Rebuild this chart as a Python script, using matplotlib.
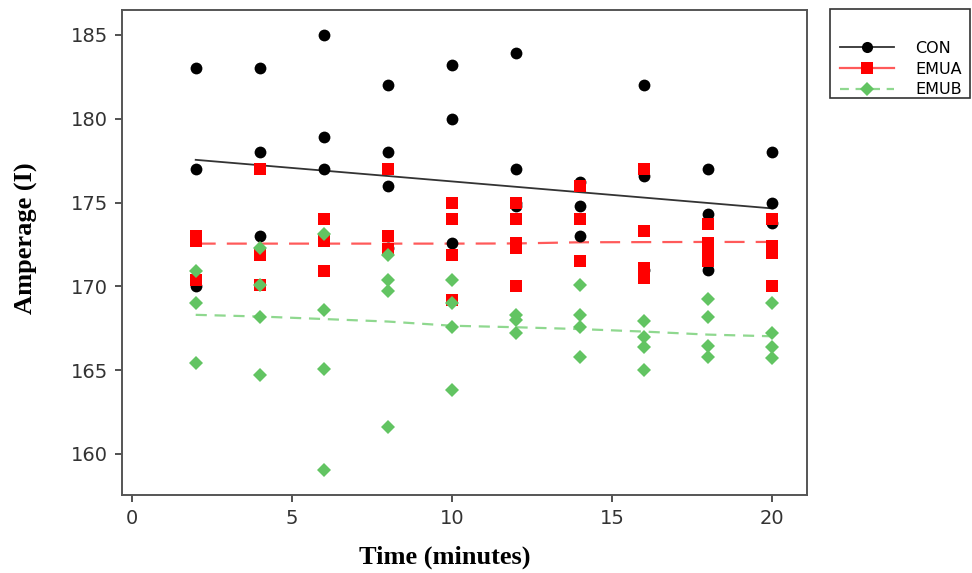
import matplotlib
matplotlib.use("Agg")
import matplotlib.pyplot as plt
from matplotlib.lines import Line2D
from matplotlib.patches import Rectangle

# ---------------- data ----------------
con_time = [2, 2, 2, 4, 4, 4, 6, 6, 6, 8, 8, 8, 8, 10, 10, 10,
            12, 12, 12, 12, 14, 14, 14, 16, 16, 16, 18, 18, 18, 20, 20, 20]
con_amp = [183, 177, 170, 183, 178, 173, 185, 178.9, 177, 182, 178, 176, 172.3,
           183.2, 180, 172.6, 183.9, 177, 175.0, 174.8, 176.2, 174.8, 173,
           182, 176.6, 171, 177, 174.3, 171, 178, 175, 173.8]

emua_time = [2, 2, 2, 4, 4, 4, 6, 6, 6, 8, 8, 8, 10, 10, 10, 10,
             12, 12, 12, 12, 12, 14, 14, 14, 16, 16, 16, 16,
             18, 18, 18, 18, 20, 20, 20, 20]
emua_amp = [173.0, 172.7, 170.4, 177, 171.9, 170.1, 174, 172.7, 170.9,
            177, 173, 172.2, 175, 174, 171.9, 169.2,
            175, 174, 172.6, 172.3, 170, 176, 174, 171.5,
            177, 173.3, 171.1, 170.5, 173.7, 172.6, 171.9, 171.5,
            174, 172.4, 172.0, 170]

emub_time = [2, 2, 2, 4, 4, 4, 4, 6, 6, 6, 6, 8, 8, 8, 8, 10, 10, 10, 10,
             12, 12, 12, 14, 14, 14, 14, 16, 16, 16, 16, 18, 18, 18, 18,
             20, 20, 20, 20]
emub_amp = [170.9, 169.0, 165.4, 172.3, 170.1, 168.2, 164.7,
            173.1, 168.6, 165.05, 159.05, 171.9, 170.4, 169.75, 161.6,
            170.4, 169.0, 167.55, 163.8, 168.3, 168.0, 167.2,
            170.1, 168.3, 167.55, 165.8, 167.95, 166.95, 166.4, 165.0,
            169.25, 168.2, 166.45, 165.8, 169.0, 167.2, 166.4, 165.75]

con_fit_time = [2, 20]
con_fit = [177.55, 174.65]
fit_time = [2, 4, 6, 8, 10, 12, 14, 16, 18, 20]
emua_fit = [172.55, 172.55, 172.55, 172.55, 172.55, 172.56, 172.63, 172.64, 172.65, 172.65]
emub_fit = [168.3, 168.2, 168.05, 167.9, 167.65, 167.56, 167.45, 167.3, 167.12, 167.02]

x_ticks = [0, 5, 10, 15, 20]
y_ticks = [160, 165, 170, 175, 180, 185]
labels = ["CON", "EMUA", "EMUB"]

# ---------------- styling ----------------
BLACK = "#000000"
RED = "#ff0000"
GREEN = "#62c462"
RED_LINE = "#ff5a5a"
GREEN_LINE = "#8fd88f"

W, H = 972, 573
fig = plt.figure(figsize=(W / 100, H / 100), dpi=100)
ax = fig.add_axes([122 / W, 1 - 495 / H, (806.7 - 122) / W, (495 - 9.5) / H])

# fit lines
ax.plot(con_fit_time, con_fit, color="#333333", lw=1.3, zorder=2)
ax.plot(fit_time, emua_fit, color=RED_LINE, lw=1.6, dashes=(9, 5), zorder=2)
ax.plot(fit_time, emub_fit, color=GREEN_LINE, lw=1.6, dashes=(5, 3.5), zorder=2)

# points
ax.plot(con_time, con_amp, ls="none", marker="o", ms=8.5, mfc=BLACK, mec=BLACK, mew=0, zorder=3)
ax.plot(emua_time, emua_amp, ls="none", marker="s", ms=8.3, mfc=RED, mec=RED, mew=0, zorder=4)
ax.plot(emub_time, emub_amp, ls="none", marker="D", ms=7.2, mfc=GREEN, mec=GREEN, mew=0, zorder=5)

ax.set_xlim(-0.3, 21.07)
ax.set_ylim(157.55, 186.52)
ax.set_xticks(x_ticks)
ax.set_yticks(y_ticks)
ax.set_xticklabels([str(v) for v in x_ticks])
ax.set_yticklabels([str(v) for v in y_ticks])
ax.tick_params(direction="out", length=5, width=1.2, color="#333333",
               labelsize=14, labelcolor="#333333", pad=5)
for sp in ax.spines.values():
    sp.set_color("#555555")
    sp.set_linewidth(1.4)

ax.set_xlabel("Time (minutes)", family=["Liberation Serif", "DejaVu Serif"],
              fontweight="bold", fontsize=19)
ax.set_ylabel("Amperage (I)", family=["Liberation Serif", "DejaVu Serif"],
              fontweight="bold", fontsize=19)
ax.xaxis.set_label_coords((445 - 122) / 684.7, 1 - (557 - 9.5) / 485.5)
ax.yaxis.set_label_coords((26 - 122) / 684.7, 1 - (238 - 9.5) / 485.5)
ax.xaxis.label.set_va("center")
ax.yaxis.label.set_va("center")

# legend
handles = [
    Line2D([], [], color="#333333", lw=1.3, marker="o", ms=8, mfc=BLACK, mec=BLACK, mew=0),
    Line2D([], [], color=RED_LINE, lw=1.6, marker="s", ms=8, mfc=RED, mec=RED, mew=0),
    Line2D([], [], color=GREEN_LINE, lw=1.6, dashes=(4, 3), marker="D", ms=7, mfc=GREEN, mec=GREEN, mew=0),
]
fig.legend(handles, labels, loc="upper left", bbox_to_anchor=(832 / W, 1 - 33 / H),
           frameon=False, borderpad=0, handlelength=3.4, handletextpad=1.3,
           labelspacing=0.35, prop={"family": ["DejaVu Sans"], "size": 11.5})
fig.patches.append(Rectangle((830 / W, 1 - 98 / H), (970 - 830) / W, (98 - 9) / H,
                             transform=fig.transFigure, fill=False,
                             edgecolor="#333333", lw=1.2))

fig.savefig("out.png", dpi=100)
